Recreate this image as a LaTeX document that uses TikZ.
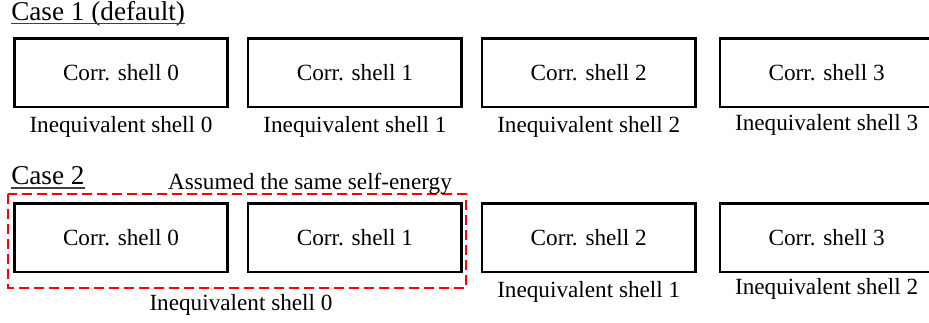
\documentclass[tikz,border=0pt]{standalone}
\usepackage{fontspec}
\setmainfont{Liberation Serif}
\usetikzlibrary{positioning}
\begin{document}
\begin{tikzpicture}[x=0.75pt, y=-0.75pt,
corr/.style={draw, line width=1.9pt, minimum width=160pt, minimum height=51.4pt, inner sep=0pt, font=\fontsize{17.4}{20}\selectfont},
ineq/.style={inner sep=0pt, font=\fontsize{17.4}{20}\selectfont},
casehead/.style={inner sep=0pt, anchor=base west, font=\fontsize{20.4}{24}\selectfont},
same/.style={draw=red, line width=1.5pt, dash pattern=on 7.5pt off 3.75pt},
uline/.style={line width=1pt, black!75},
node distance=13.5pt]
\useasboundingbox (0,0) rectangle (929,322);
\node[casehead] (case1) at (11,20.5) {Case 1 (default)};
\draw[uline] ([yshift=-2.2pt]case1.base west) -- ([yshift=-2.2pt]case1.base east);
\node[corr] (a0) at (121,72.5) {Corr. shell 0};
\node[corr, right=of a0] (a1) {Corr. shell 1};
\node[corr, right=of a1] (a2) {Corr. shell 2};
\node[corr, right=16.5pt of a2] (a3) {Corr. shell 3};
\node[ineq, below=6.4pt of a0] (la0) {Inequivalent shell 0};
\node[ineq, below=6.4pt of a1] (la1) {Inequivalent shell 1};
\node[ineq, below=6.4pt of a2] (la2) {Inequivalent shell 2};
\node[ineq, below=4.6pt of a3] (la3) {Inequivalent shell 3};
\node[casehead] (case2) at (11,184.5) {Case 2};
\draw[uline] ([yshift=-2.6pt]case2.base west) -- ([yshift=-2.6pt]case2.base east);
\node[corr] (b0) at (121,237.5) {Corr. shell 0};
\node[corr, right=of b0] (b1) {Corr. shell 1};
\node[corr, right=of b1] (b2) {Corr. shell 2};
\node[corr, right=16.5pt of b2] (b3) {Corr. shell 3};
\coordinate (sameNW) at ([shift={(-5,-8)}]b0.north west);
\coordinate (sameSE) at ([shift={(3,15)}]b1.south east);
\draw[same] (sameNW) rectangle (sameSE);
\node[ineq, anchor=base] (samelabel) at (310,189) {Assumed the same self-energy};
\node[ineq, anchor=north] (lb0) at (241,294.5) {Inequivalent shell 0};
\node[ineq, below=6.4pt of b2] (lb1) {Inequivalent shell 1};
\node[ineq, below=3.6pt of b3] (lb2) {Inequivalent shell 2};
\end{tikzpicture}
\end{document}
